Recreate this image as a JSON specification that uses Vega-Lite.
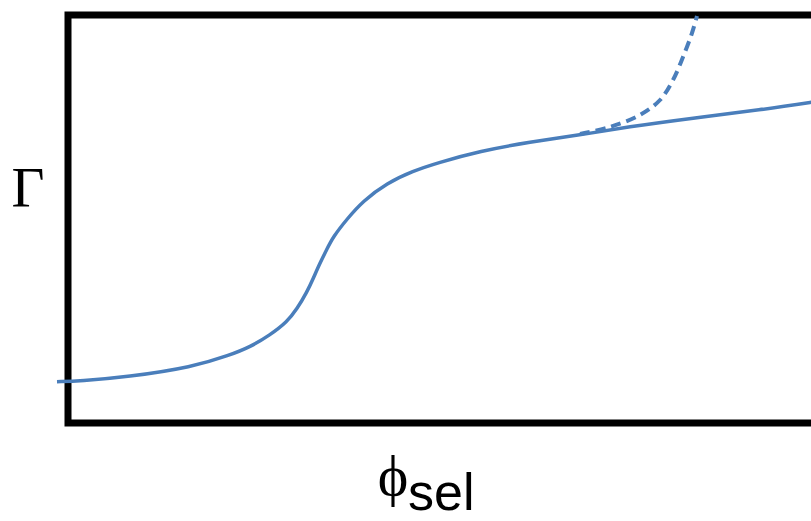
{
  "$schema": "https://vega.github.io/schema/vega-lite/v6.json",
  "width": 762,
  "height": 408,
  "autosize": {"type": "none"},
  "padding": {"left": 68, "top": 15, "right": 0, "bottom": 98},
  "background": "white",
  "config": {"view": {"stroke": "black", "strokeWidth": 7}},
  "datasets": {
    "solid": [
      {"phi": -11, "gamma": 41.3},
      {"phi": 12, "gamma": 42},
      {"phi": 59, "gamma": 46},
      {"phi": 125, "gamma": 56},
      {"phi": 162, "gamma": 68},
      {"phi": 182, "gamma": 76},
      {"phi": 202, "gamma": 88},
      {"phi": 219, "gamma": 101},
      {"phi": 229, "gamma": 114},
      {"phi": 239, "gamma": 131},
      {"phi": 245, "gamma": 144},
      {"phi": 252, "gamma": 160},
      {"phi": 259, "gamma": 174},
      {"phi": 265, "gamma": 186},
      {"phi": 279, "gamma": 204},
      {"phi": 295, "gamma": 222},
      {"phi": 319, "gamma": 240},
      {"phi": 345, "gamma": 252},
      {"phi": 369, "gamma": 260},
      {"phi": 412, "gamma": 272},
      {"phi": 462, "gamma": 281},
      {"phi": 512, "gamma": 288},
      {"phi": 559, "gamma": 296},
      {"phi": 625, "gamma": 305},
      {"phi": 692, "gamma": 313},
      {"phi": 752, "gamma": 322}
    ],
    "dashed": [
      {"phi": 512, "gamma": 289},
      {"phi": 542, "gamma": 296},
      {"phi": 572, "gamma": 308},
      {"phi": 592, "gamma": 323},
      {"phi": 605, "gamma": 343},
      {"phi": 615, "gamma": 366},
      {"phi": 624, "gamma": 390},
      {"phi": 629, "gamma": 407}
    ]
  },
  "layer": [
    {
      "data": {"name": "solid"},
      "mark": {"type": "line", "color": "#4a7ebb", "strokeWidth": 3.5, "interpolate": "basis", "clip": false},
      "encoding": {
        "x": {"field": "phi", "type": "quantitative", "scale": {"domain": [0, 762], "nice": false, "zero": false}, "axis": null},
        "y": {"field": "gamma", "type": "quantitative", "scale": {"domain": [0, 408], "nice": false, "zero": false}, "axis": null}
      }
    },
    {
      "data": {"name": "dashed"},
      "mark": {"type": "line", "color": "#4a7ebb", "strokeWidth": 4, "strokeDash": [10, 6], "interpolate": "catmull-rom", "clip": false},
      "encoding": {
        "x": {"field": "phi", "type": "quantitative"},
        "y": {"field": "gamma", "type": "quantitative"}
      }
    },
    {
      "data": {"values": [{"t": "Γ"}]},
      "mark": {"type": "text", "font": "Liberation Serif", "fontSize": 57, "align": "center", "baseline": "alphabetic", "color": "black"},
      "encoding": {
        "text": {"field": "t"},
        "x": {"datum": -40},
        "y": {"datum": 216}
      }
    },
    {
      "data": {"values": [{"t": "ϕ"}]},
      "mark": {"type": "text", "font": "Liberation Serif", "fontSize": 58, "align": "center", "baseline": "alphabetic", "color": "black"},
      "encoding": {
        "text": {"field": "t"},
        "x": {"datum": 325},
        "y": {"datum": -72}
      }
    },
    {
      "data": {"values": [{"t": "sel"}]},
      "mark": {"type": "text", "font": "Liberation Sans", "fontSize": 52, "align": "left", "baseline": "alphabetic", "color": "black"},
      "encoding": {
        "text": {"field": "t"},
        "x": {"datum": 340},
        "y": {"datum": -87}
      }
    }
  ]
}
